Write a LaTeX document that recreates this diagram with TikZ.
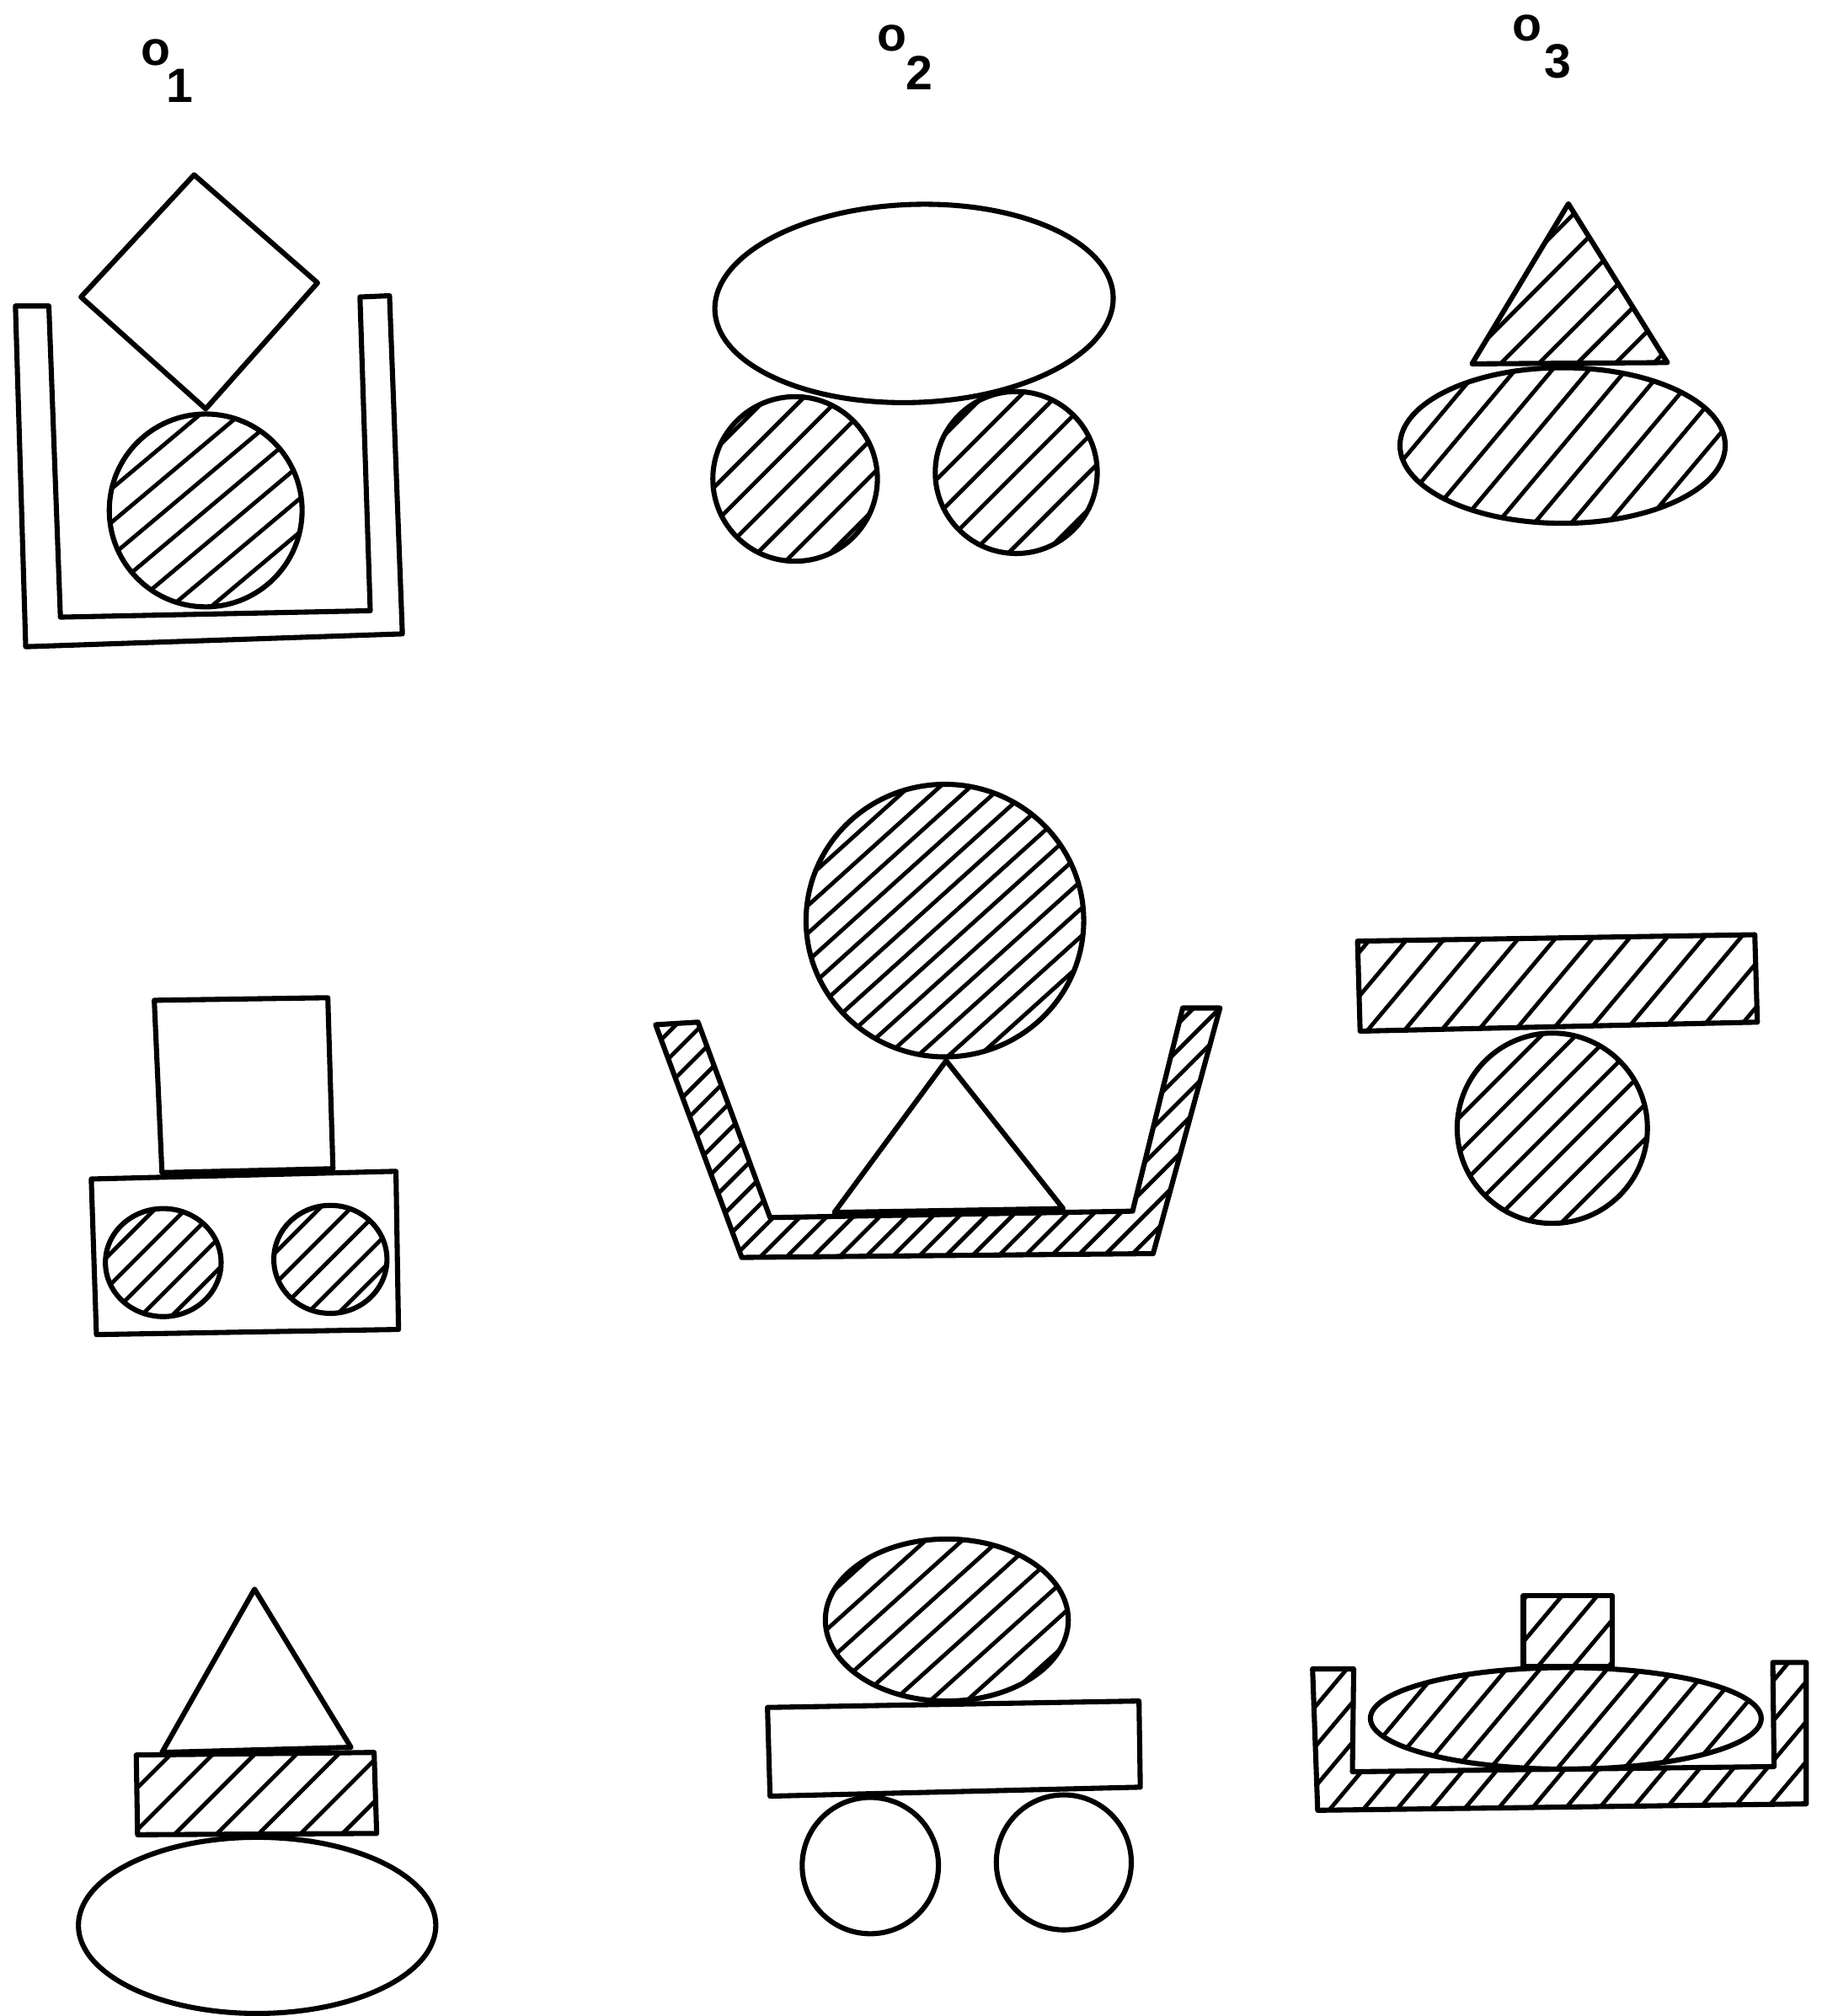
\documentclass[tikz,border=0pt]{standalone}
\usepackage{fontspec}
\setmainfont{Liberation Sans}
\tikzset{
  outline/.style={line width=1.7pt, line join=round},
  hatchline/.style={line width=1.35pt},
  lbl/.style={inner sep=0pt, font=\fontsize{16}{19}\selectfont\bfseries}
}
% #1 clip path, #2 cx, #3 cy, #4 angle, #5 spacing
\newcommand\hatchshape[5]{%
  \begin{scope}
    \clip #1;
    \foreach \i in {-30,...,30}{%
      \draw[hatchline] ({#2+(\i)*#5*sin(#4)-500*cos(#4)},{#3+(\i)*#5*cos(#4)+500*sin(#4)}) --
                       ({#2+(\i)*#5*sin(#4)+500*cos(#4)},{#3+(\i)*#5*cos(#4)-500*sin(#4)});
    }
  \end{scope}}
\begin{document}
\begin{tikzpicture}[x=0.15mm,y=-0.15mm]
\useasboundingbox (0,0) rectangle (1417,1568);

% labels
\node[lbl] (o1) at (121,41) {o};
\node[lbl] (s1) at (140,67) {1};
\node[lbl] (o2) at (694,29.5) {o};
\node[lbl] (s2) at (715,57) {2};
\node[lbl] (o3) at (1188,22) {o};
\node[lbl] (s3) at (1212,47.5) {3};

% ---------- panel 1
\draw[outline] (12,238) -- (38,238) -- (47,480) -- (288,475) -- (280,231) -- (303,230) -- (313,493) -- (20,503) -- cycle;
\draw[outline] (151,136) -- (247,220) -- (160,318) -- (63,231) -- cycle;
\hatchshape{(160,397) circle [radius=75]}{160}{397}{40}{20}
\draw[outline] (160,397) circle [radius=75];

% ---------- panel 2
\draw[outline, rotate around={2:(711,236)}] (711,236) ellipse [x radius=155, y radius=77];
\hatchshape{(618.5,372.5) circle [radius=64]}{618.5}{372.5}{45}{20}
\draw[outline] (618.5,372.5) circle [radius=64];
\hatchshape{(790.5,367.5) circle [radius=63]}{790.5}{367.5}{45}{20}
\draw[outline] (790.5,367.5) circle [radius=63];

% ---------- panel 3
\hatchshape{(1220,158.5) -- (1297,282) -- (1145,283) -- cycle}{1220}{230}{45}{21}
\draw[outline] (1220,158.5) -- (1297,282) -- (1145,283) -- cycle;
\hatchshape{(1215.5,346.5) ellipse [x radius=126.5, y radius=60.5]}{1215.5}{346.5}{50}{22}
\draw[outline] (1215.5,346.5) ellipse [x radius=126.5, y radius=60.5];

% ---------- panel 4
\draw[outline] (120,778) -- (255,776) -- (259,909) -- (126,912) -- cycle;
\draw[outline] (71,917) -- (308,911) -- (310,1034) -- (75,1038) -- cycle;
\hatchshape{(127,982) ellipse [x radius=45, y radius=42]}{127}{982}{45}{17}
\draw[outline] (127,982) ellipse [x radius=45, y radius=42];
\hatchshape{(257,979.5) ellipse [x radius=44, y radius=42]}{257}{979.5}{45}{17}
\draw[outline] (257,979.5) ellipse [x radius=44, y radius=42];

% ---------- panel 5
\hatchshape{(735,716) ellipse [x radius=108, y radius=106]}{735}{716}{42}{16}
\draw[outline] (735,716) ellipse [x radius=108, y radius=106];
\draw[outline] (736,825) -- (827,940) -- (649,943) -- cycle;
\hatchshape{(510,797) -- (543,795) -- (599,947) -- (881,942) -- (920,784) -- (949,784) -- (897,975) -- (577,978) -- cycle}{730}{880}{45}{14.5}
\draw[outline] (510,797) -- (543,795) -- (599,947) -- (881,942) -- (920,784) -- (949,784) -- (897,975) -- (577,978) -- cycle;

% ---------- panel 6
\hatchshape{(1056,732) -- (1365,727) -- (1367,795) -- (1058,802) -- cycle}{1210}{764}{50}{22}
\draw[outline] (1056,732) -- (1365,727) -- (1367,795) -- (1058,802) -- cycle;
\hatchshape{(1207.5,877.5) circle [radius=74]}{1207.5}{877.5}{45}{19}
\draw[outline] (1207.5,877.5) circle [radius=74];

% ---------- panel 7
\draw[outline] (198,1236) -- (273,1359) -- (126,1363) -- cycle;
\hatchshape{(106,1365) -- (291,1363) -- (293,1426) -- (107,1427) -- cycle}{200}{1395}{45}{23}
\draw[outline] (106,1365) -- (291,1363) -- (293,1426) -- (107,1427) -- cycle;
\draw[outline] (200,1497.5) ellipse [x radius=139, y radius=68.5];

% ---------- panel 8
\hatchshape{(736.5,1260) ellipse [x radius=94.5, y radius=63]}{736.5}{1260}{42}{19}
\draw[outline] (736.5,1260) ellipse [x radius=94.5, y radius=63];
\draw[outline] (597,1328) -- (886,1323) -- (887,1390) -- (599,1397) -- cycle;
\draw[outline] (677,1451) circle [radius=53];
\draw[outline] (827.5,1448.5) circle [radius=52.5];

% ---------- panel 9
\hatchshape{(1185,1241) rectangle (1254,1296)}{1219.5}{1268.5}{50}{21}
\draw[outline] (1185,1241) rectangle (1254,1296);
\hatchshape{(1218,1336.5) ellipse [x radius=152, y radius=39.5]}{1218}{1336.5}{50}{20}
\draw[outline] (1218,1336.5) ellipse [x radius=152, y radius=39.5];
\hatchshape{(1021,1298) -- (1053,1298) -- (1052,1378) -- (1380,1374) -- (1379,1293) -- (1405,1293) -- (1405,1403) -- (1025,1408) -- cycle}{1213}{1350}{50}{20}
\draw[outline] (1021,1298) -- (1053,1298) -- (1052,1378) -- (1380,1374) -- (1379,1293) -- (1405,1293) -- (1405,1403) -- (1025,1408) -- cycle;
\end{tikzpicture}
\end{document}
